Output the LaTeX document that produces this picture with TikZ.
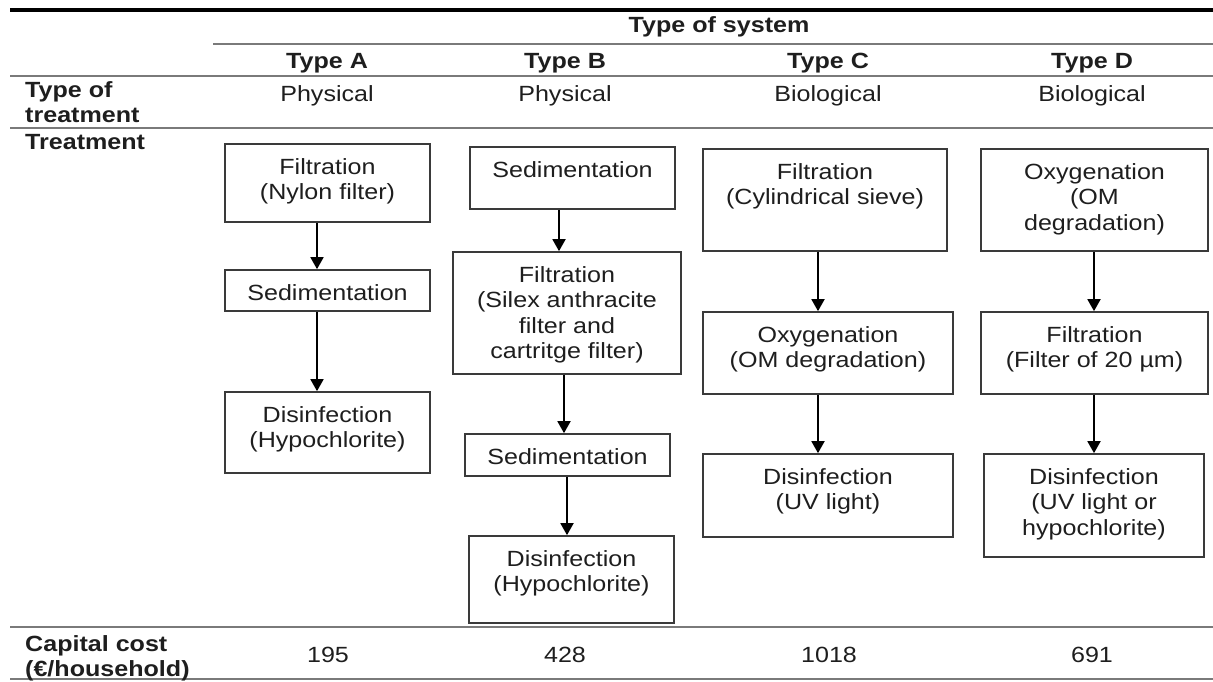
\documentclass[tikz,border=0pt]{standalone}
\usepackage{fontspec}
\setmainfont{Liberation Sans}[FakeStretch=1.14]
\usetikzlibrary{arrows.meta}

\definecolor{rulegray}{HTML}{7A7A7A}
\definecolor{boxgray}{HTML}{3A3A3A}
\definecolor{inkblack}{HTML}{1E1E1E}
\newcommand\cellfont{\fontsize{22pt}{25.5pt}\selectfont}

\tikzset{
    stagebox/.style={draw=boxgray, line width=1.7pt, inner sep=0pt},
    stagetext/.style={anchor=north, align=center, inner sep=0pt, text=inkblack, font=\cellfont},
    flow/.style={-{Triangle[length=12pt,width=13pt]}, line width=1.8pt, black},
    toprule/.style={line width=4.5pt, black},
    midrule/.style={line width=2pt, rulegray},
    colhead/.style={anchor=base, inner sep=0pt, text=inkblack, font=\cellfont\bfseries},
    cell/.style={anchor=base, inner sep=0pt, text=inkblack, font=\cellfont},
    rowhead/.style={anchor=north west, align=left, inner sep=0pt, text=inkblack, font=\cellfont\bfseries}
}

\begin{document}
\begin{tikzpicture} [x=1pt, y=-1pt]
            \useasboundingbox (0,0) rectangle (1213,681);

            % rules of the table
            \draw[toprule] (10,10) -- (1213,10);
            \draw[midrule] (213,44) -- (1213,44);
            \draw[midrule] (10,76) -- (1213,76);
            \draw[midrule] (10,128) -- (1213,128);
            \draw[midrule] (10,627) -- (1213,627);
            \draw[midrule] (10,679) -- (1213,679);

            % header
            \node[colhead] (sys) at (719,32) {Type of system};
            \node[colhead] (ta) at (327,68) {Type A};
            \node[colhead] (tb) at (565,68) {Type B};
            \node[colhead] (tc) at (828,68) {Type C};
            \node[colhead] (td) at (1092,68) {Type D};

            \node[rowhead] (kind) at (25,81) {Type of\\treatment};
            \node[cell] (ka) at (327,101) {Physical};
            \node[cell] (kb) at (565,101) {Physical};
            \node[cell] (kc) at (828,101) {Biological};
            \node[cell] (kd) at (1092,101) {Biological};

            \node[rowhead] (treat) at (25,134) {Treatment};

            % type A
            \node[stagebox, minimum width=205pt, minimum height=78pt] (a1) at (327.5,183) {};
            \node[stagetext] (a1t) at ([yshift=-15pt]a1.north) {Filtration\\(Nylon filter)};
            \node[stagebox, minimum width=205pt, minimum height=41pt] (a2) at (327.5,290.5) {};
            \node[stagetext] (a2t) at ([yshift=-15pt]a2.north) {Sedimentation};
            \node[stagebox, minimum width=205pt, minimum height=81pt] (a3) at (327.5,432.5) {};
            \node[stagetext] (a3t) at ([yshift=-15pt]a3.north) {Disinfection\\(Hypochlorite)};

            \draw[flow] ([xshift=-10.5pt]a1.south) -- ([xshift=-10.5pt]a2.north);
            \draw[flow] ([xshift=-10.5pt]a2.south) -- ([xshift=-10.5pt]a3.north);

            % type B
            \node[stagebox, minimum width=205pt, minimum height=62pt] (b1) at (572.5,178) {};
            \node[stagetext] (b1t) at ([yshift=-15pt]b1.north) {Sedimentation};
            \node[stagebox, minimum width=228pt, minimum height=122pt] (b2) at (567,313) {};
            \node[stagetext] (b2t) at ([yshift=-15pt]b2.north) {Filtration\\(Silex anthracite\\filter and\\cartritge filter)};
            \node[stagebox, minimum width=205pt, minimum height=42pt] (b3) at (567.5,455) {};
            \node[stagetext] (b3t) at ([yshift=-15pt]b3.north) {Sedimentation};
            \node[stagebox, minimum width=205pt, minimum height=87pt] (b4) at (571.5,579.5) {};
            \node[stagetext] (b4t) at ([yshift=-15pt]b4.north) {Disinfection\\(Hypochlorite)};

            \draw[flow] ([xshift=-13.5pt]b1.south) -- ([xshift=-8pt]b2.north);
            \draw[flow] ([xshift=-3pt]b2.south) -- ([xshift=-3.5pt]b3.north);
            \draw[flow] ([xshift=-0.5pt]b3.south) -- ([xshift=-4.5pt]b4.north);

            % type C
            \node[stagebox, minimum width=244pt, minimum height=102pt] (c1) at (825,200) {};
            \node[stagetext] (c1t) at ([yshift=-15pt]c1.north) {Filtration\\(Cylindrical sieve)};
            \node[stagebox, minimum width=250pt, minimum height=82pt] (c2) at (828,353) {};
            \node[stagetext] (c2t) at ([yshift=-15pt]c2.north) {Oxygenation\\(OM degradation)};
            \node[stagebox, minimum width=250pt, minimum height=83pt] (c3) at (828,495.5) {};
            \node[stagetext] (c3t) at ([yshift=-15pt]c3.north) {Disinfection\\(UV light)};

            \draw[flow] ([xshift=-7pt]c1.south) -- ([xshift=-10pt]c2.north);
            \draw[flow] ([xshift=-10pt]c2.south) -- ([xshift=-10pt]c3.north);

            % type D
            \node[stagebox, minimum width=227pt, minimum height=102pt] (d1) at (1094.5,200) {};
            \node[stagetext] (d1t) at ([yshift=-15pt]d1.north) {Oxygenation\\(OM\\degradation)};
            \node[stagebox, minimum width=227pt, minimum height=82pt] (d2) at (1094.5,353) {};
            \node[stagetext] (d2t) at ([yshift=-15pt]d2.north) {Filtration\\(Filter of 20 µm)};
            \node[stagebox, minimum width=220pt, minimum height=103pt] (d3) at (1094,505.5) {};
            \node[stagetext] (d3t) at ([yshift=-15pt]d3.north) {Disinfection\\(UV light or\\hypochlorite)};

            \draw[flow] ([xshift=-0.5pt]d1.south) -- ([xshift=-0.5pt]d2.north);
            \draw[flow] ([xshift=-0.5pt]d2.south) -- (d3.north);

            % costs
            \node[rowhead] (cost) at (25,635) {Capital cost\\(€/household)};
            \node[cell] (ca) at (328,662) {195};
            \node[cell] (cb) at (565,662) {428};
            \node[cell] (cc) at (829,662) {1018};
            \node[cell] (cd) at (1092,662) {691};
\end{tikzpicture}
\end{document}
